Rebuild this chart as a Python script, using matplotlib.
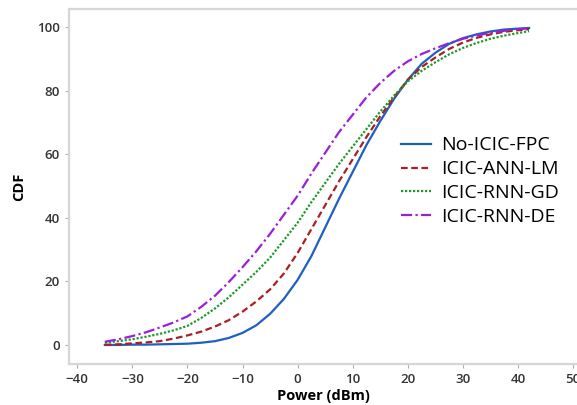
import matplotlib
matplotlib.use("Agg")
import matplotlib.pyplot as plt

# values (CDF in %, power in dBm)
power = [-35, -32.5, -30, -27.5, -25, -22.5, -20, -17.5, -15, -12.5, -10, -7.5,
         -5, -2.5, 0, 2.5, 5, 7.5, 10, 12.5, 15, 17.5, 20, 22.5, 25, 27.5,
         30, 32.5, 35, 37.5, 40, 42]
no_icic_fpc = [0, 0, 0.1, 0.1, 0.2, 0.3, 0.4, 0.7, 1.2, 2.2, 3.8, 6.2,
               9.8, 14.5, 20.5, 28, 37, 46, 54.5, 63, 70.5, 77.5, 83.5, 88.5, 92, 94.8,
               96.6, 97.8, 98.7, 99.3, 99.6, 99.8]
icic_ann_lm = [0, 0.2, 0.5, 0.8, 1.2, 2, 3, 4.2, 5.8, 7.8, 10.5, 13.7,
               17.5, 22.5, 29, 36.5, 44, 51.5, 58.5, 65.5, 72, 78, 83.5, 87.5, 90.5, 93.2,
               95.2, 96.7, 97.8, 98.6, 99.1, 99.4]
icic_rnn_gd = [0.7, 1.2, 1.8, 2.6, 3.5, 4.6, 6, 8.5, 11.5, 15, 19, 23,
               27.5, 33, 38.5, 45, 51, 57, 62.5, 68, 73.5, 78.5, 83, 86.3, 89, 91.5,
               93.5, 95.1, 96.4, 97.4, 98.2, 98.8]
icic_rnn_de = [1, 1.8, 2.8, 4, 5.5, 7.1, 9, 12, 15.5, 19.8, 24.5, 29.5,
               35, 41, 47, 54, 60.5, 67, 72.5, 78, 82.5, 86.3, 89.3, 91.6, 93.4, 95,
               96.4, 97.4, 98.3, 98.9, 99.4, 99.7]

series = [
    ("No-ICIC-FPC", no_icic_fpc, "#1f5fc0", "-"),
    ("ICIC-ANN-LM", icic_ann_lm, "#a8201f", (0, (3, 1.6))),
    ("ICIC-RNN-GD", icic_rnn_gd, "#1f9a2a", (0, (1, 0.8))),
    ("ICIC-RNN-DE", icic_rnn_de, "#9a20d8", (0, (5, 1.5, 1, 1.5))),
]

plt.rcParams["font.family"] = ["Open Sans", "DejaVu Sans"]

fig = plt.figure(figsize=(5.77, 4.05), dpi=100)
ax = fig.add_axes([0.1196, 0.1012, 0.8804, 0.8768])

for name, vals, col, ls in series:
    ax.plot(power, vals, color=col, ls=ls, lw=1.6, label=name)

ax.set_xlim(-41.5, 50.7)
ax.set_ylim(-6, 105.8)
ax.set_xticks(range(-40, 51, 10))
ax.set_yticks(range(0, 101, 20))

for s in ["top", "left", "bottom"]:
    ax.spines[s].set_color("#d6d6d6")
    ax.spines[s].set_linewidth(1.6)
ax.spines["right"].set_visible(False)
ax.tick_params(length=3, color="#b0b0b0", labelsize=9.5, labelcolor="#333333")
for lab in ax.get_xticklabels() + ax.get_yticklabels():
    lab.set_fontweight("semibold")

ax.set_xlabel("Power (dBm)", fontsize=10.5, fontweight="bold", labelpad=2)
ax.set_ylabel("CDF", fontsize=10.5, fontweight="bold", labelpad=8)

ax.legend(loc="upper left", bbox_to_anchor=(0.62, 0.69), frameon=False,
          fontsize=14, handlelength=1.5, handletextpad=0.55, labelspacing=0.3)

fig.savefig("out.png", dpi=100)
